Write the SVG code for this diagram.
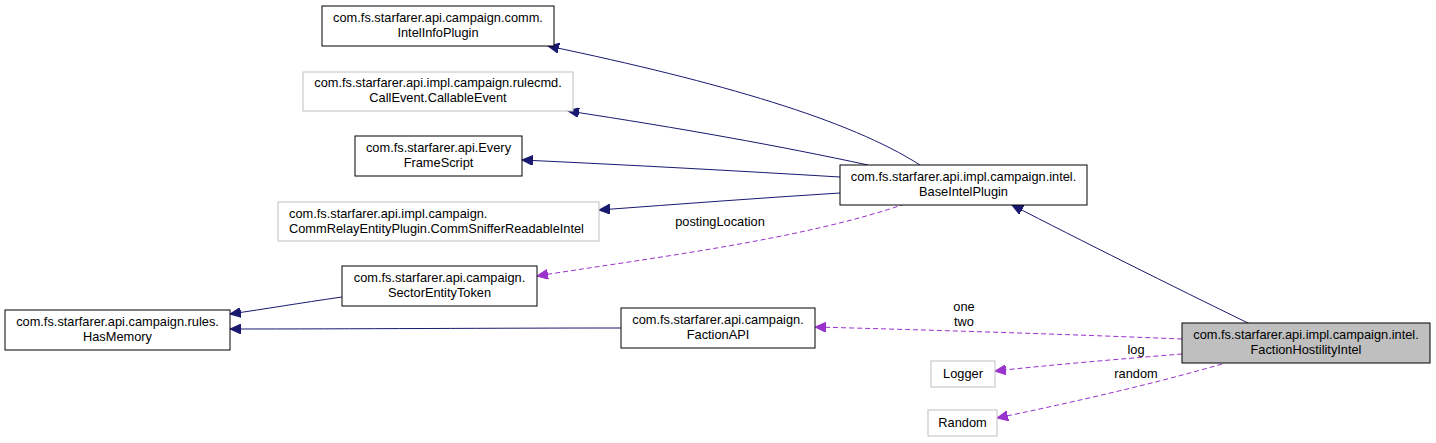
<svg xmlns="http://www.w3.org/2000/svg" width="1436" height="443" viewBox="0 0 1436 443">
<defs>
<style>
text{font-family:"Liberation Sans",Arial,sans-serif;font-size:12.8px;fill:#000;text-anchor:middle}
.n rect{fill:#fff;stroke:#000;stroke-width:1}
.g rect{fill:#fff;stroke:#bfbfbf;stroke-width:1}
.cur rect{fill:#bfbfbf;stroke:#000}
.e{fill:none;stroke:#191970;stroke-width:1}
.d{fill:none;stroke:#9a32cd;stroke-width:1;stroke-dasharray:5,3}
</style>
<marker id="an" markerWidth="12" markerHeight="10" refX="11" refY="5" orient="auto" markerUnits="userSpaceOnUse"><path d="M0,0 L11,5 L0,10 Z" fill="#191970" stroke="#191970"/></marker>
<marker id="ap" markerWidth="12" markerHeight="10" refX="11" refY="5" orient="auto" markerUnits="userSpaceOnUse"><path d="M0,0 L11,5 L0,10 Z" fill="#9a32cd" stroke="#9a32cd"/></marker>
</defs>
<rect width="1436" height="443" fill="#fff"/>
<g id="connectors">
<path class="e" d="M920,165 C850,120 720,82 548,46" marker-end="url(#an)"/>
<path class="e" d="M868,165 C780,146 680,128 568,111" marker-end="url(#an)"/>
<path class="e" d="M840,177 C740,171 630,165 522,160" marker-end="url(#an)"/>
<path class="e" d="M840,193 C760,198 680,204 599,210" marker-end="url(#an)"/>
<path class="d" d="M905,204 C800,240 650,258 537,276" marker-end="url(#ap)"/>
<text x="720" y="226">postingLocation</text>
<path class="e" d="M1250,324 C1170,285 1080,240 1012,205" marker-end="url(#an)"/>
<path class="e" d="M342,297 C300,303 265,309 230,314" marker-end="url(#an)"/>
<path class="e" d="M621,328 C500,328 350,329 230,329" marker-end="url(#an)"/>
<path class="d" d="M1182,339 C1060,334 930,330 815,327" marker-end="url(#ap)"/>
<text x="964" y="311">one</text>
<text x="964" y="326">two</text>
<path class="d" d="M1182,354 C1120,359 1050,365 995,371" marker-end="url(#ap)"/>
<text x="1136" y="354">log</text>
<path class="d" d="M1222,364 C1150,385 1060,405 997,418" marker-end="url(#ap)"/>
<text x="1136" y="378">random</text>
</g>
<g id="IntelInfoPlugin" class="n"><rect x="322" y="6" width="232" height="40"/><text x="438" y="22">com.fs.starfarer.api.campaign.comm.</text><text x="438" y="37">IntelInfoPlugin</text></g>
<g id="CallableEvent" class="g"><rect x="303" y="72" width="270" height="39"/><text x="438" y="87">com.fs.starfarer.api.impl.campaign.rulecmd.</text><text x="438" y="102">CallEvent.CallableEvent</text></g>
<g id="EveryFrameScript" class="n"><rect x="355" y="136" width="167" height="40"/><text x="438.5" y="152">com.fs.starfarer.api.Every</text><text x="438.5" y="167">FrameScript</text></g>
<g id="CommSnifferReadableIntel" class="g"><rect x="278" y="202" width="321" height="39"/><text x="289" y="218" style="text-anchor:start">com.fs.starfarer.api.impl.campaign.</text><text x="289" y="233" style="text-anchor:start">CommRelayEntityPlugin.CommSnifferReadableIntel</text></g>
<g id="SectorEntityToken" class="n"><rect x="342" y="266" width="195" height="40"/><text x="439.5" y="282">com.fs.starfarer.api.campaign.</text><text x="439.5" y="297">SectorEntityToken</text></g>
<g id="HasMemory" class="n"><rect x="5" y="310" width="225" height="40"/><text x="117.5" y="326">com.fs.starfarer.api.campaign.rules.</text><text x="117.5" y="341">HasMemory</text></g>
<g id="FactionAPI" class="n"><rect x="621" y="308" width="194" height="40"/><text x="718" y="324">com.fs.starfarer.api.campaign.</text><text x="718" y="339">FactionAPI</text></g>
<g id="BaseIntelPlugin" class="n"><rect x="840" y="165" width="247" height="40"/><text x="963.5" y="181">com.fs.starfarer.api.impl.campaign.intel.</text><text x="963.5" y="196">BaseIntelPlugin</text></g>
<g id="FactionHostilityIntel" class="cur"><rect x="1182" y="323" width="248" height="40"/><text x="1306" y="339">com.fs.starfarer.api.impl.campaign.intel.</text><text x="1306" y="354">FactionHostilityIntel</text></g>
<g id="Logger" class="g"><rect x="931" y="361" width="64" height="26"/><text x="963" y="378">Logger</text></g>
<g id="Random" class="g"><rect x="928" y="410" width="69" height="26"/><text x="962.5" y="427">Random</text></g>
</svg>
